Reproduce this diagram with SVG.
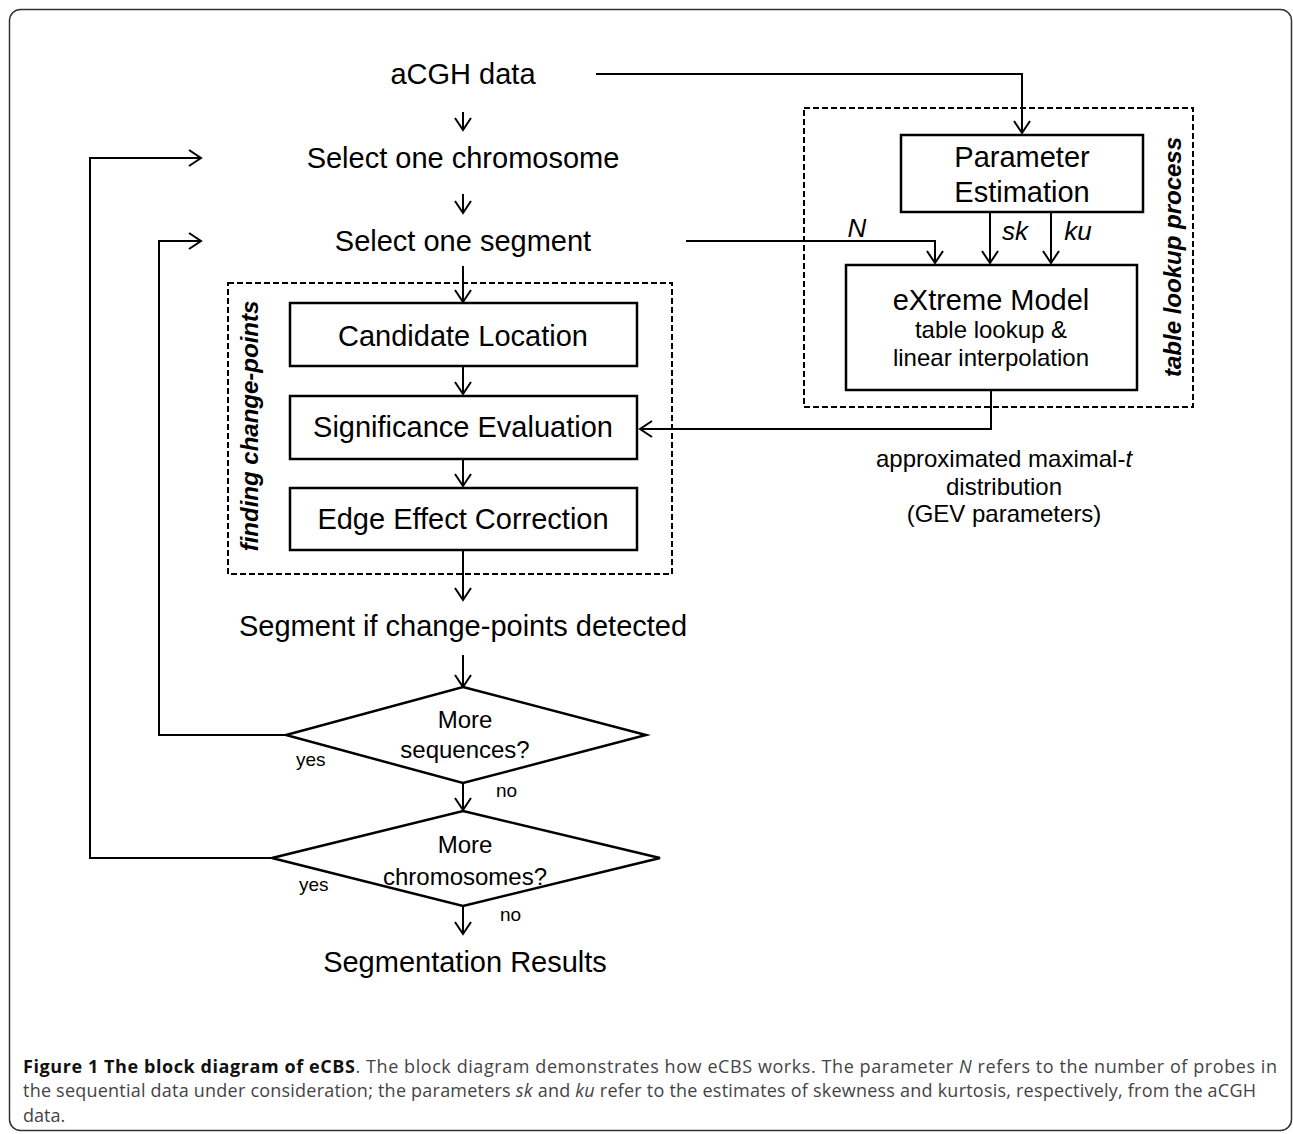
<svg xmlns="http://www.w3.org/2000/svg" width="1293" height="1134" viewBox="0 0 1293 1134">
<defs>
<marker id="ah" viewBox="-14 -10 16 20" refX="0" refY="0" markerWidth="16" markerHeight="20" markerUnits="userSpaceOnUse" orient="auto">
<path d="M-12,-8 L0,0 L-12,8" fill="none" stroke="#000" stroke-width="2"/>
</marker>
<style>
.t{font-family:"Liberation Sans",Arial,sans-serif;fill:#000;text-anchor:middle}
.f29{font-size:29px}
.f24{font-size:24px}
.f26{font-size:26px;font-style:italic}
.lbl{font-family:"Liberation Sans",Arial,sans-serif;font-size:19px;fill:#000}
.rot{font-family:"Liberation Sans",Arial,sans-serif;font-size:24px;font-weight:bold;font-style:italic;text-anchor:middle;fill:#000}
.box{fill:#fff;stroke:#000;stroke-width:2.5}
.dash{fill:none;stroke:#000;stroke-width:2;stroke-dasharray:6,3}
.ln{fill:none;stroke:#000;stroke-width:2}
.ar{fill:none;stroke:#000;stroke-width:2;marker-end:url(#ah)}
.cap{font-family:"Open Sans","Noto Sans",sans-serif;font-size:18px;fill:#444}
</style>
</defs>
<rect x="9.5" y="9.5" width="1282" height="1121" rx="11" fill="#fff" stroke="#333" stroke-width="1.5"/>

<g id="group-finding">
<rect class="dash" x="228" y="283" width="444" height="291"/>
<text class="rot" transform="translate(258,426) rotate(-90)">finding change-points</text>
</g>
<g id="group-table">
<rect class="dash" x="804" y="108" width="389" height="299"/>
<text class="rot" transform="translate(1181,257) rotate(-90)">table lookup process</text>
</g>

<g id="connectors">
<line class="ar" x1="463" y1="112" x2="463" y2="130"/>
<line class="ar" x1="463" y1="194" x2="463" y2="213"/>
<line class="ar" x1="463" y1="266" x2="463" y2="302"/>
<line class="ar" x1="463" y1="366" x2="463" y2="394"/>
<line class="ar" x1="463" y1="459" x2="463" y2="486"/>
<line class="ar" x1="463" y1="550" x2="463" y2="600"/>
<line class="ar" x1="463" y1="655" x2="463" y2="687"/>
<line class="ar" x1="463" y1="783" x2="463" y2="810"/>
<line class="ar" x1="463" y1="906" x2="463" y2="934"/>
<polyline class="ar" points="286,735 159,735 159,241 201,241"/>
<polyline class="ar" points="272,858 90,858 90,158 201,158"/>
<polyline class="ar" points="596,74 1022,74 1022,133"/>
<polyline class="ar" points="686,241 935,241 935,263"/>
<line class="ar" x1="990" y1="212" x2="990" y2="263"/>
<line class="ar" x1="1051" y1="212" x2="1051" y2="263"/>
<polyline class="ar" points="991,390 991,429 640,429"/>
</g>

<g id="node-acgh"><text class="t f29" x="463" y="84">aCGH data</text></g>
<g id="node-chrom"><text class="t f29" x="463" y="168">Select one chromosome</text></g>
<g id="node-seg"><text class="t f29" x="463" y="251">Select one segment</text></g>

<g id="node-candidate">
<rect class="box" x="290" y="303" width="347" height="63"/>
<text class="t f29" x="463" y="346">Candidate Location</text>
</g>
<g id="node-significance">
<rect class="box" x="290" y="396" width="347" height="63"/>
<text class="t f29" x="463" y="437">Significance Evaluation</text>
</g>
<g id="node-edge">
<rect class="box" x="290" y="488" width="347" height="62"/>
<text class="t f29" x="463" y="529">Edge Effect Correction</text>
</g>

<g id="node-segment-if"><text class="t f29" x="463" y="636">Segment if change-points detected</text></g>

<g id="node-more-seq">
<polygon class="box" points="463,687 646,735 463,783 286,735"/>
<text class="t f24" x="465" y="728">More</text>
<text class="t f24" x="465" y="758">sequences?</text>
<text class="lbl" x="296" y="766">yes</text>
<text class="lbl" x="496" y="797">no</text>
</g>
<g id="node-more-chrom">
<polygon class="box" points="463,811 660,858 463,906 272,858"/>
<text class="t f24" x="465" y="853">More</text>
<text class="t f24" x="465" y="885">chromosomes?</text>
<text class="lbl" x="299" y="891">yes</text>
<text class="lbl" x="500" y="921">no</text>
</g>
<g id="node-results"><text class="t f29" x="465" y="972">Segmentation Results</text></g>

<g id="node-param">
<rect class="box" x="901" y="135" width="242" height="77"/>
<text class="t f29" x="1022" y="167">Parameter</text>
<text class="t f29" x="1022" y="202">Estimation</text>
</g>
<g id="node-extreme">
<rect class="box" x="846" y="265" width="291" height="125"/>
<text class="t f29" x="991" y="310">eXtreme Model</text>
<text class="t f24" x="991" y="338">table lookup &amp;</text>
<text class="t f24" x="991" y="366">linear interpolation</text>
</g>

<g id="labels">
<text class="t f26" x="857" y="237">N</text>
<text class="t f26" x="1015" y="240">sk</text>
<text class="t f26" x="1078" y="240">ku</text>
<text class="t f24" x="1004" y="467">approximated maximal-<tspan font-style="italic">t</tspan></text>
<text class="t f24" x="1004" y="495">distribution</text>
<text class="t f24" x="1004" y="522">(GEV parameters)</text>
</g>

<g id="caption">
<text class="cap" x="23" y="1073" textLength="1254" lengthAdjust="spacing"><tspan font-weight="bold" fill="#111">Figure 1 The block diagram of eCBS</tspan>. The block diagram demonstrates how eCBS works. The parameter <tspan font-style="italic">N</tspan> refers to the number of probes in</text>
<text class="cap" x="23" y="1097" textLength="1233" lengthAdjust="spacing">the sequential data under consideration; the parameters <tspan font-style="italic">sk</tspan> and <tspan font-style="italic">ku</tspan> refer to the estimates of skewness and kurtosis, respectively, from the aCGH</text>
<text class="cap" x="23" y="1122">data.</text>
</g>
</svg>
